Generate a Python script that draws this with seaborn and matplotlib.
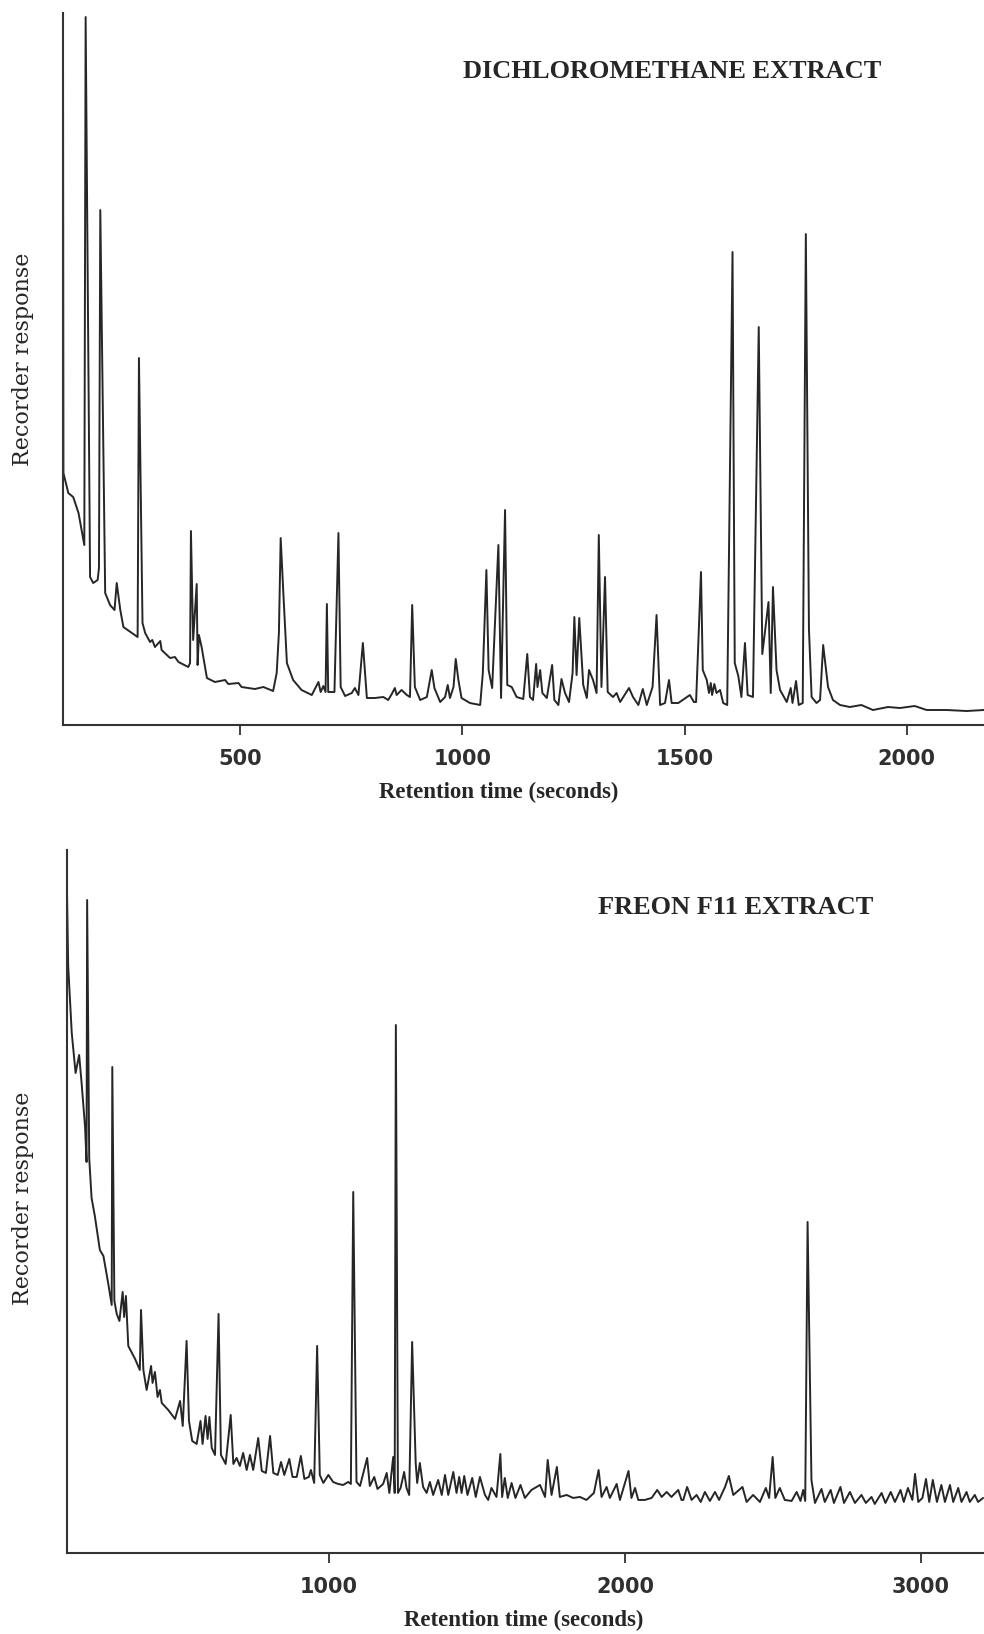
import matplotlib
matplotlib.use("Agg")
import matplotlib.pyplot as plt
import seaborn as sns
import pandas as pd

# ---------------- data ----------------
# Dichloromethane extract: retention time (s) and recorder response (arb. units)
dcm_time = [101, 102, 113, 124, 136, 149, 152, 162, 169, 179, 182, 185, 196, 207, 217, 222,
            230, 237, 256, 269, 272, 280, 286, 297, 302, 308, 320, 323, 342, 353, 361, 383,
            387, 389, 394, 402, 404, 407, 413, 425, 443, 466, 473, 496, 503, 533, 552, 574,
            582, 587, 591, 597, 605, 619, 638, 661, 676, 681, 687, 692, 695, 698, 712, 721,
            726, 736, 751, 758, 766, 776, 785, 803, 822, 833, 841, 848, 852, 863, 875, 882,
            887, 893, 905, 920, 931, 937, 950, 961, 967, 972, 980, 985, 991, 998, 1017, 1040,
            1046, 1054, 1059, 1067, 1073, 1081, 1087, 1096, 1101, 1111, 1122, 1137, 1146, 1152,
            1159, 1166, 1169, 1175, 1180, 1190, 1202, 1207, 1216, 1223, 1231, 1240, 1248, 1252,
            1257, 1263, 1272, 1280, 1285, 1294, 1302, 1307, 1313, 1321, 1327, 1339, 1347, 1355,
            1375, 1384, 1396, 1406, 1415, 1428, 1437, 1445, 1456, 1465, 1471, 1486, 1512, 1521,
            1526, 1537, 1541, 1550, 1555, 1559, 1562, 1567, 1572, 1580, 1587, 1596, 1608, 1613,
            1621, 1628, 1636, 1642, 1654, 1667, 1675, 1681, 1689, 1694, 1699, 1707, 1715, 1730,
            1739, 1743, 1751, 1757, 1766, 1773, 1780, 1786, 1797, 1805, 1812, 1823, 1834, 1850,
            1872, 1898, 1924, 1958, 1985, 2018, 2045, 2090, 2135, 2174]
dcm_resp = [712, 252, 232, 228, 212, 180, 708, 148, 142, 145, 157, 515, 132, 120, 115, 142,
            115, 98, 92, 88, 367, 102, 92, 83, 85, 78, 84, 75, 67, 68, 63, 58,
            62, 194, 85, 141, 60, 90, 78, 47, 43, 45, 41, 42, 38, 36, 38, 34,
            52, 92, 187, 132, 62, 45, 35, 30, 43, 33, 39, 33, 121, 33, 33, 192,
            38, 29, 32, 37, 30, 82, 27, 27, 28, 25, 31, 37, 30, 35, 30, 28,
            120, 38, 25, 28, 55, 37, 23, 28, 40, 27, 38, 66, 45, 27, 22, 20,
            52, 155, 55, 37, 98, 180, 27, 215, 40, 38, 28, 26, 71, 28,
            25, 61, 38, 55, 32, 27, 60, 25, 20, 46, 32, 23, 52, 108,
            50, 107, 40, 27, 55, 45, 32, 190, 38, 148, 33, 28, 32, 23,
            37, 28, 20, 36, 20, 38, 110, 20, 22, 45, 22, 22, 30, 23,
            23, 153, 55, 45, 32, 42, 30, 41, 32, 35, 22, 20, 473, 62,
            49, 28, 82, 30, 28, 398, 71, 93, 123, 32, 138, 55, 35, 23,
            37, 22, 44, 20, 22, 491, 96, 28, 22, 25, 80, 38, 25, 20,
            18, 20, 15, 18, 17, 19, 15, 15, 14, 15]

# Freon F11 extract
f11_time = [115, 119, 131, 144, 156, 164, 176, 181, 183, 190, 198, 209, 226, 238, 254, 266,
            268, 275, 283, 292, 303, 308, 314, 322, 345, 361, 365, 373, 384, 399, 404, 412,
            421, 429, 435, 457, 480, 497, 506, 519, 527, 538, 553, 566, 573, 583, 590, 596,
            604, 615, 627, 635, 651, 668, 677, 688, 699, 710, 722, 733, 744, 761, 773, 787,
            801, 812, 827, 838, 849, 866, 877, 891, 905, 917, 932, 939, 950, 960, 969, 981,
            998, 1014, 1031, 1048, 1065, 1074, 1082, 1093, 1105, 1129, 1138, 1153, 1164, 1183,
            1195, 1204, 1217, 1222, 1226, 1233, 1242, 1254, 1262, 1271, 1281, 1293, 1298, 1307,
            1318, 1330, 1341, 1352, 1369, 1381, 1392, 1403, 1420, 1431, 1440, 1448, 1457, 1468,
            1484, 1496, 1510, 1527, 1538, 1549, 1566, 1579, 1585, 1594, 1604, 1617, 1630, 1647,
            1662, 1684, 1713, 1730, 1739, 1752, 1770, 1780, 1803, 1825, 1848, 1870, 1895, 1911,
            1921, 1938, 1949, 1972, 1983, 2012, 2022, 2034, 2045, 2067, 2090, 2109, 2124, 2141,
            2157, 2180, 2191, 2197, 2210, 2225, 2242, 2256, 2270, 2287, 2304, 2318, 2338, 2351,
            2366, 2397, 2411, 2433, 2456, 2476, 2487, 2499, 2508, 2523, 2540, 2563, 2580, 2593,
            2602, 2609, 2617, 2630, 2642, 2664, 2675, 2695, 2706, 2728, 2740, 2760, 2777, 2799,
            2814, 2833, 2844, 2867, 2880, 2898, 2912, 2931, 2942, 2956, 2971, 2980, 2991, 3005,
            3017, 3028, 3040, 3054, 3069, 3081, 3098, 3109, 3126, 3137, 3154, 3165, 3182, 3193,
            3210]
f11_resp = [660, 587, 520, 480, 498, 471, 426, 391, 653, 395, 355, 337, 303, 297, 270, 248,
            486, 252, 239, 232, 261, 236, 257, 207, 194, 183, 243, 183, 163, 187, 170, 181,
            156, 163, 150, 143, 134, 152, 127, 212, 132, 112, 109, 132, 109, 137, 114, 136,
            105, 98, 239, 98, 89, 138, 89, 95, 87, 100, 83, 98, 83, 115, 82, 80,
            117, 80, 78, 91, 78, 94, 76, 76, 97, 74, 76, 83, 70, 207, 78, 70,
            78, 71, 69, 68, 71, 69, 361, 71, 67, 95, 67, 76, 64, 69,
            80, 60, 96, 60, 528, 60, 65, 81, 65, 58, 211, 90, 70, 90,
            66, 60, 71, 58, 73, 58, 78, 58, 81, 60, 76, 60, 77, 58,
            75, 56, 76, 58, 53, 65, 56, 99, 56, 75, 55, 70, 55, 68,
            55, 63, 68, 56, 93, 58, 86, 56, 58, 55, 56, 53, 60, 83,
            56, 66, 55, 69, 53, 82, 55, 65, 53, 53, 55, 63, 56, 61,
            56, 63, 53, 53, 66, 53, 58, 51, 61, 52, 61, 53, 66, 77,
            58, 66, 51, 58, 51, 65, 55, 96, 55, 65, 53, 52, 61, 52,
            63, 52, 331, 73, 50, 64, 51, 63, 50, 66, 50, 61, 50, 58,
            50, 56, 49, 60, 50, 61, 51, 63, 51, 65, 53, 79, 51, 55,
            74, 51, 73, 51, 68, 51, 68, 51, 65, 51, 61, 51, 58, 51,
            55]

dcm_ticks = [500, 1000, 1500, 2000]
f11_ticks = [1000, 2000, 3000]
dcm_title = "DICHLOROMETHANE EXTRACT"
f11_title = "FREON F11 EXTRACT"
x_label = "Retention time (seconds)"
y_label = "Recorder response"

# ---------------- styling ----------------
sns.set_style("ticks")
plt.rcParams['font.family'] = ['DejaVu Sans']
ink = "#262626"

fig = plt.figure(figsize=(9.84, 16.34), dpi=100)
ax1 = fig.add_axes([0.0640, 0.5563, 0.9360, 0.4357])
ax2 = fig.add_axes([0.0681, 0.0496, 0.9319, 0.4302])

panels = [
    (ax1, dcm_time, dcm_resp, dcm_ticks, (101, 2174), 712, (0.473, -0.095), (-0.0439, 0.513)),
    (ax2, f11_time, f11_resp, f11_ticks, (115, 3213), 703, (0.498, -0.0965), (-0.0483, 0.504)),
]

for ax, t, r, ticks, xl, ytop, xlab_pos, ylab_pos in panels:
    df = pd.DataFrame({"time": t, "resp": r})
    sns.lineplot(data=df, x="time", y="resp", ax=ax, estimator=None, sort=False,
                 color=ink, linewidth=1.4)
    ax.set_xlim(*xl)
    ax.set_ylim(0, ytop)
    ax.set_yticks([])
    ax.set_xticks(ticks)
    ax.set_xticklabels([str(v) for v in ticks], fontweight="bold", color="#303030")
    ax.tick_params(axis="x", direction="out", length=7, width=1.3, pad=10,
                   labelsize=15, colors="#303030")
    for side in ("top", "right"):
        ax.spines[side].set_visible(False)
    for side in ("left", "bottom"):
        ax.spines[side].set_linewidth(1.5)
        ax.spines[side].set_color("#333333")
    ax.set_xlabel(x_label, family="Liberation Serif", fontweight="bold",
                  fontsize=16.5, color=ink, va="center")
    ax.xaxis.set_label_coords(*xlab_pos)
    ax.set_ylabel(y_label, family="DejaVu Serif", fontsize=16, color=ink, va="center")
    ax.yaxis.set_label_coords(*ylab_pos)
    ax.set_facecolor("white")

fig.text(0.683, 0.9565, dcm_title, ha="center", va="center", family="Liberation Serif",
         fontweight="bold", fontsize=19, color=ink)
fig.text(0.748, 0.4449, f11_title, ha="center", va="center", family="Liberation Serif",
         fontweight="bold", fontsize=19, color=ink)

fig.savefig("out.png", dpi=100, facecolor="white")
